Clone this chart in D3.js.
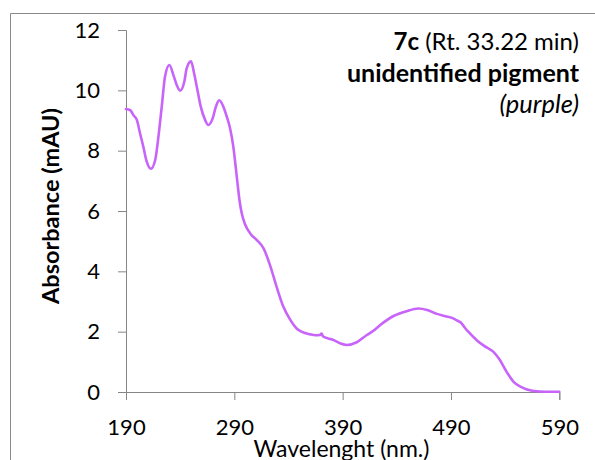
<!DOCTYPE html>
<html>
<head>
<meta charset="utf-8">
<script src="https://cdn.jsdelivr.net/npm/d3@7"></script>
<style>
  html, body { margin: 0; padding: 0; background: #fff; }
  svg { display: block; }
  text { font-family: Lato, "Open Sans", sans-serif; fill: #000; }
</style>
</head>
<body>
<svg id="chart" width="595" height="460"></svg>
<script>
// UV-Vis absorbance spectrum: wavelength (nm) and absorbance (mAU)
const wavelength = [190, 194, 197, 200, 203, 206, 209, 213, 217, 220, 223, 226, 230, 234, 237, 240,
  244, 246, 250, 253, 256, 259, 263, 266, 270, 273, 276, 280, 283, 286, 289, 291, 293, 295, 297, 300,
  305, 311, 317, 323, 329, 335, 341, 348, 352, 360, 365, 369, 370.5, 372, 381, 388, 394, 403, 412,
  418, 425, 437, 449, 460, 468, 477, 486, 492, 495, 500, 503, 506, 514, 521, 529, 535, 541, 548, 555,
  565, 578, 590];
const absorbance = [9.38, 9.34, 9.17, 9.02, 8.57, 8.13, 7.65, 7.40, 7.70, 8.48, 9.46, 10.45, 10.84,
  10.48, 10.16, 9.99, 10.32, 10.73, 10.96, 10.54, 10.00, 9.46, 9.02, 8.85, 9.07, 9.46, 9.67, 9.45,
  9.13, 8.75, 8.15, 7.55, 6.90, 6.30, 5.90, 5.55, 5.24, 5.03, 4.76, 4.20, 3.49, 2.85, 2.43, 2.09,
  2.00, 1.91, 1.88, 1.89, 1.94, 1.84, 1.73, 1.61, 1.56, 1.65, 1.88, 2.02, 2.23, 2.52, 2.68, 2.77,
  2.72, 2.59, 2.50, 2.44, 2.38, 2.27, 2.12, 2.00, 1.71, 1.52, 1.34, 1.07, 0.69, 0.33, 0.16, 0.04,
  0.01, 0.01];

const xTicks = [190, 290, 390, 490, 590];
const yTicks = [0, 2, 4, 6, 8, 10, 12];
const titleLines = [
  { parts: [{ t: "7c", w: "bold" }, { t: " (Rt. 33.22 min)", w: "normal" }] },
  { parts: [{ t: "unidentified pigment", w: "bold" }] },
  { parts: [{ t: "(purple)", w: "normal", s: "italic" }] }
];
const xLabel = "Wavelenght (nm.)";
const yLabel = "Absorbance (mAU)";

const svg = d3.select("#chart");
const axisColor = "#868686";
const lineColor = "#C864FA";

// chart frame
svg.append("path")
  .attr("d", "M10.5,470 V13.5 H600")
  .attr("fill", "none")
  .attr("stroke", "#8a8a8a")
  .attr("stroke-width", 1);

const x = d3.scaleLinear().domain([190, 590]).range([126, 559.3]);
const y = d3.scaleLinear().domain([0, 12]).range([392, 30]);

// y axis
const gy = svg.append("g")
  .attr("transform", "translate(126,0)")
  .call(d3.axisLeft(y).tickValues(yTicks).tickSize(8).tickPadding(18).tickFormat(d3.format("d")));
gy.select(".domain").attr("stroke", axisColor);
gy.selectAll(".tick line").attr("stroke", axisColor);
gy.selectAll(".tick text")
  .attr("font-size", 22).attr("font-family", "Lato, sans-serif").attr("fill", "#000")
  .attr("x", -26).attr("dy", "0.33em");

// x axis
const gx = svg.append("g")
  .attr("transform", "translate(0,392)")
  .call(d3.axisBottom(x).tickValues(xTicks).tickSize(8).tickFormat(d3.format("d")));
gx.select(".domain").attr("stroke", axisColor);
gx.selectAll(".tick line").attr("stroke", axisColor);
gx.selectAll(".tick text")
  .attr("font-size", 22).attr("font-family", "Lato, sans-serif").attr("fill", "#000")
  .attr("y", 43).attr("dy", 0);

// spectrum line
const pts = wavelength.map((w, i) => [w, absorbance[i]]);
const line = d3.line().x(d => x(d[0])).y(d => y(d[1])).curve(d3.curveMonotoneX);
svg.append("path")
  .datum(pts)
  .attr("d", line)
  .attr("fill", "none")
  .attr("stroke", lineColor)
  .attr("stroke-width", 2.6)
  .attr("stroke-linejoin", "round")
  .attr("stroke-linecap", "round");

// axis titles
svg.append("text")
  .attr("transform", "translate(59,206) rotate(-90)")
  .attr("text-anchor", "middle")
  .attr("font-size", 23.5)
  .attr("font-weight", "bold")
  .text(yLabel);

svg.append("text")
  .attr("x", 341.5).attr("y", 457)
  .attr("text-anchor", "middle")
  .attr("font-size", 23)
  .text(xLabel);

// compound annotation
const baselines = [50, 82, 113];
const lineSizes = [24, 25, 25.5];
titleLines.forEach((ln, i) => {
  const t = svg.append("text")
    .attr("x", 579).attr("y", baselines[i])
    .attr("text-anchor", "end")
    .attr("font-size", lineSizes[i]);
  ln.parts.forEach(p => {
    t.append("tspan")
      .attr("font-weight", p.w)
      .attr("font-style", p.s || "normal")
      .text(p.t);
  });
});
</script>
</body>
</html>
